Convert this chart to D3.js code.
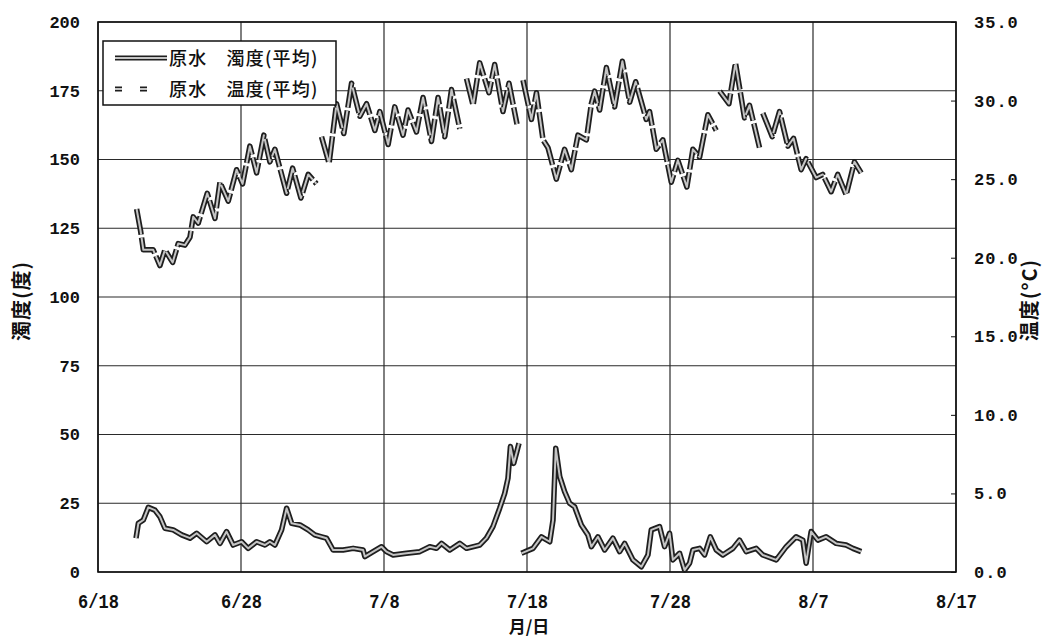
<!DOCTYPE html>
<html>
<head>
<meta charset="utf-8">
<script src="https://cdn.jsdelivr.net/npm/d3@7"></script>
<style>
  html, body { margin: 0; padding: 0; background: #fff; }
  svg { display: block; }
  .num { font-family: "Liberation Mono", "DejaVu Sans Mono", monospace; font-weight: bold; fill: #111; }
  .jp { font-family: "Noto Sans CJK JP", sans-serif; fill: #111; }
</style>
</head>
<body>
<svg id="chart" width="1043" height="637"></svg>
<script>
// Days counted from 6/18; null marks a break in the record.
const xTickDays = [0, 10, 20, 30, 40, 50, 60];
const xTickLabels = ["6/18", "6/28", "7/8", "7/18", "7/28", "8/7", "8/17"];
const leftTicks = [0, 25, 50, 75, 100, 125, 150, 175, 200];
const rightTicks = [0, 5, 10, 15, 20, 25, 30, 35];

// 原水 温度(平均) [°C]
const tempDays = [
  2.70, 2.98, 3.17, 3.86, 4.33, 4.68, 5.22, 5.61, 6.08, 6.43, 6.66, 7.01, 7.64, 8.18, 8.53,
  9.11, 9.69, 10.11, 10.62, 11.09, 11.60, 12.02, 12.37, 13.19, 13.61, 14.19, 14.70, 15.28, null,
  15.63, 16.16, 16.68, 17.19, 17.73, 18.31, 18.78, 19.36, 19.71, 20.29, 20.75, 21.33, 21.68,
  22.27, 22.73, 23.32, 23.78, 24.25, 24.72, 25.30, null,
  25.77, 26.23, 26.69, 27.34, 27.74, 28.32, 28.74, 29.30, null,
  29.72, 30.31, 30.66, 31.12, 31.47, 32.05, 32.63, 33.10, 33.56, 34.15, 34.50, 34.73, 35.08,
  35.55, 36.13, 36.67, 37.18, 37.60, 38.34, 38.57, 39.04, 39.50, 40.09, 40.55, 41.18, 41.60,
  42.07, 42.65, 43.23, null,
  43.47, 44.12, 44.58, 45.21, 45.56, 46.26, null,
  46.49, 47.15, 47.66, 48.24, 48.64, 49.17, 49.52, 50.22, 50.68, 51.27, 51.73, 52.32, 52.90, 53.37
];
const tempValues = [
  23.1, 21.7, 20.5, 20.5, 19.5, 20.5, 19.7, 20.9, 20.8, 21.3, 22.6, 22.2, 24.1, 22.5, 24.8,
  23.6, 25.6, 24.7, 27.1, 25.4, 27.8, 26.1, 26.9, 24.1, 25.7, 23.8, 25.3, 24.7, null,
  27.7, 26.0, 29.8, 27.9, 31.1, 29.0, 29.8, 28.1, 29.3, 27.2, 29.6, 27.8, 29.4,
  28.0, 30.2, 27.4, 30.2, 27.7, 30.7, 28.2, null,
  31.4, 29.7, 32.4, 30.5, 32.3, 29.3, 31.1, 28.5, null,
  31.3, 28.8, 30.5, 27.5, 27.0, 25.0, 26.9, 25.6, 27.8, 27.5, 29.8, 30.6, 29.4,
  32.1, 29.6, 32.5, 29.9, 31.2, 28.8, 29.3, 26.9, 27.5, 24.8, 26.2, 24.5, 26.9,
  26.4, 29.1, 28.1, null,
  30.6, 29.8, 32.4, 28.9, 29.7, 27.0, null,
  29.2, 27.7, 29.3, 27.1, 27.6, 25.6, 26.3, 25.1, 25.3, 24.2, 25.3, 24.0, 26.1, 25.4
];

// 原水 濁度(平均) [度]
const turbDays = [
  2.66, 2.82, 3.17, 3.52, 3.98, 4.33, 4.68, 5.26, 5.85, 6.43, 6.90, 7.60, 8.18, 8.53, 8.99,
  9.45, 10.04, 10.50, 11.09, 11.67, 12.02, 12.37, 12.84, 13.19, 13.54, 14.12, 14.70, 15.16,
  15.63, 15.98, 16.44, 17.14, 17.84, 18.54, 18.66, 19.24, 19.83, 20.17, 20.64, 21.57, 22.50,
  23.20, 23.67, 24.02, 24.60, 25.30, 25.77, 26.69, 27.16, 27.62, 28.09, 28.44, 28.67, 28.84,
  29.07, 29.26, 29.44, null,
  29.61, 30.42, 31.01, 31.59, 31.82, 32.01, 32.29, 32.63, 32.98, 33.33, 33.80, 34.26, 34.50,
  34.96, 35.43, 36.01, 36.48, 36.83, 37.41, 38.00, 38.46, 38.69, 39.27, 39.62, 39.97, 40.20,
  40.67, 41.02, 41.37, 41.60, 42.07, 42.42, 42.82, 43.24, 43.70, 44.40, 44.86, 45.33, 46.03,
  46.49, 47.43, 48.13, 48.82, 49.29, 49.52, 49.87, 50.34, 50.92, 51.62, 52.32, 52.79, 53.37
];
const turbValues = [
  12.3, 17.7, 18.9, 23.5, 22.5, 20.1, 15.9, 15.3, 13.5, 12.3, 14.1, 11.0, 13.5, 10.4, 14.7,
  9.8, 11.0, 8.6, 11.0, 9.8, 11.0, 9.8, 15.3, 23.2, 17.7, 17.1, 15.3, 13.5,
  12.8, 12.3, 8.0, 8.0, 8.6, 8.0, 5.6, 7.4, 9.2, 7.4, 6.2, 6.8, 7.4,
  9.2, 8.6, 10.4, 8.0, 10.4, 8.6, 9.8, 12.3, 16.5, 23.2, 28.6, 34.1, 45.6,
  39.5, 43.2, 46.8, null,
  6.8, 8.6, 12.8, 11.0, 18.9, 45.0, 34.7, 29.2, 25.0, 23.7, 17.1, 13.5, 9.2,
  12.8, 8.0, 12.3, 7.4, 10.4, 4.4, 1.9, 6.2, 15.3, 16.5, 9.2, 14.1, 4.4,
  6.8, 0.7, 3.2, 8.0, 8.6, 6.2, 12.8, 8.0, 6.2, 8.6, 11.6, 7.4, 8.6,
  6.2, 4.4, 9.2, 12.8, 11.6, 3.2, 14.7, 11.6, 12.8, 10.4, 9.8, 8.6, 7.4
];

const svg = d3.select("#chart");
const plot = { left: 98, right: 956, top: 22, bottom: 572 };

const x = d3.scaleLinear().domain([0, 60]).range([plot.left, plot.right]);
const yL = d3.scaleLinear().domain([0, 200]).range([plot.bottom, plot.top]);
const yR = d3.scaleLinear().domain([0, 35]).range([plot.bottom, plot.top]);

// grid
const grid = svg.append("g").attr("stroke", "#2a2a2a").attr("stroke-width", 1.2);
leftTicks.forEach(v => {
  grid.append("line").attr("x1", plot.left).attr("x2", plot.right)
    .attr("y1", yL(v)).attr("y2", yL(v));
});
xTickDays.forEach(d => {
  grid.append("line").attr("x1", x(d)).attr("x2", x(d))
    .attr("y1", plot.top).attr("y2", plot.bottom);
});

// frame
svg.append("rect")
  .attr("x", plot.left).attr("y", plot.top)
  .attr("width", plot.right - plot.left).attr("height", plot.bottom - plot.top)
  .attr("fill", "none").attr("stroke", "#111").attr("stroke-width", 1.6);

// axes
const axL = d3.axisLeft(yL).tickValues(leftTicks).tickSize(0).tickPadding(18).tickFormat(d3.format("d"));
svg.append("g").attr("transform", `translate(${plot.left},0)`).call(axL)
  .call(g => g.select(".domain").remove())
  .selectAll("text").attr("class", "num").attr("font-size", 17).attr("font-family", null);

const axR = d3.axisRight(yR).tickValues(rightTicks).tickSize(-5).tickPadding(18).tickFormat(d3.format(".1f"));
svg.append("g").attr("transform", `translate(${plot.right},0)`).call(axR)
  .call(g => g.select(".domain").remove())
  .call(g => g.selectAll("line").attr("stroke", "#111"))
  .selectAll("text").attr("class", "num").attr("font-size", 17).attr("font-family", null)
  .attr("letter-spacing", 1);

const axB = d3.axisBottom(x).tickValues(xTickDays).tickSize(0).tickPadding(0)
  .tickFormat((d, i) => xTickLabels[i]);
svg.append("g").attr("transform", `translate(0,${plot.bottom})`).call(axB)
  .call(g => g.select(".domain").remove())
  .selectAll("text").attr("class", "num").attr("font-size", 17).attr("font-family", null)
  .attr("dy", null).attr("y", 0)
  .attr("transform", "translate(0,36) scale(1,1.2)");

// axis titles
svg.append("text").attr("class", "jp").attr("font-size", 20).attr("font-weight", "bold")
  .attr("text-anchor", "middle").attr("letter-spacing", 1)
  .attr("transform", "translate(29,301) rotate(-90)").text("濁度(度)");
svg.append("text").attr("class", "jp").attr("font-size", 20).attr("font-weight", "bold")
  .attr("text-anchor", "middle").attr("letter-spacing", 1)
  .attr("transform", "translate(1037,300) rotate(-90)").text("温度(°C)");
svg.append("text").attr("class", "jp").attr("font-size", 17).attr("font-weight", "bold")
  .attr("text-anchor", "middle").attr("x", x(30) + 2).attr("y", 633).text("月/日");

// series: drawn as a dark outline with a light core
function series(days, values, yScale, dash) {
  const pts = days.map((d, i) => ({ d, v: values[i] }));
  const line = d3.line()
    .defined(p => p.d !== null && p.v !== null)
    .x(p => x(p.d)).y(p => yScale(p.v));
  const g = svg.append("g").attr("fill", "none").attr("stroke-linejoin", "round");
  g.append("path").attr("d", line(pts)).attr("stroke", "#1e1e1e").attr("stroke-width", 5.5)
    .attr("stroke-dasharray", dash);
  g.append("path").attr("d", line(pts)).attr("stroke", "#c4c4c4").attr("stroke-width", 2)
    .attr("stroke-dasharray", dash);
}
series(turbDays, turbValues, yL, null);
series(tempDays, tempValues, yR, "26 3");

// legend
const lg = svg.append("g");
lg.append("rect").attr("x", 103).attr("y", 41).attr("width", 233).attr("height", 64)
  .attr("fill", "#fff").attr("stroke", "#111").attr("stroke-width", 1.5);
const legendItems = [
  { label: "原水　濁度(平均)", y: 58, x2: 167, dash: null },
  { label: "原水　温度(平均)", y: 89, x2: 149, dash: "7 18" }
];
legendItems.forEach(it => {
  lg.append("line").attr("x1", 115).attr("x2", it.x2).attr("y1", it.y).attr("y2", it.y)
    .attr("stroke", "#1e1e1e").attr("stroke-width", 5).attr("stroke-dasharray", it.dash);
  lg.append("line").attr("x1", 115).attr("x2", it.x2).attr("y1", it.y).attr("y2", it.y)
    .attr("stroke", "#c4c4c4").attr("stroke-width", 1.8).attr("stroke-dasharray", it.dash);
  lg.append("text").attr("class", "jp").attr("font-size", 18).attr("font-weight", 500)
    .attr("letter-spacing", 1.2)
    .attr("x", 169).attr("y", it.y + 7).text(it.label);
});
</script>
</body>
</html>
